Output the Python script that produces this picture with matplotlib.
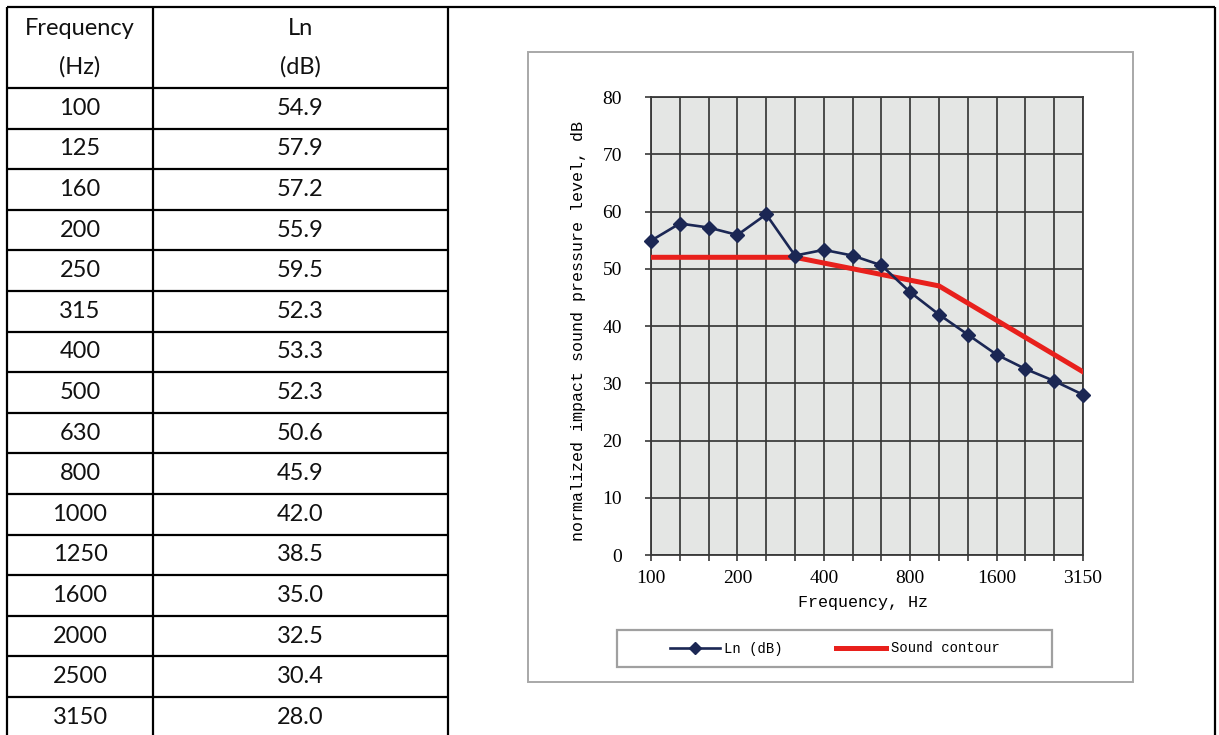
import numpy as np
import matplotlib
matplotlib.use("Agg")
import matplotlib.pyplot as plt
from matplotlib.patches import Rectangle


FREQUENCIES = ["100", "125", "160", "200", "250", "315", "400", "500",
               "630", "800", "1000", "1250", "1600", "2000", "2500", "3150"]
LN_DB = [54.9, 57.9, 57.2, 55.9, 59.5, 52.3, 53.3, 52.3,
         50.6, 45.9, 42.0, 38.5, 35.0, 32.5, 30.4, 28.0]
CONTOUR = [52, 52, 52, 52, 52, 52, 51, 50,
           49, 48, 47, 44, 41, 38, 35, 32]
X_LABELS_SHOWN = ["100", "200", "400", "800", "1600", "3150"]
Y_TICKS = [0, 10, 20, 30, 40, 50, 60, 70, 80]

W, H = 1219, 735
NAVY = "#1b2754"
RED = "#e8201c"
GRID = "#383838"

TABLE_FONT = "Lato"
SERIF = "Liberation Serif"
MONO = "Liberation Mono"


def draw_table(bg):
    line = dict(color="black", lw=1.6, solid_capstyle="butt")
    x_left, x_mid, x_right, x_end = 7, 153, 448, 1215
    y_top, y_head = 7, 88
    row_h = 40.6

    # frame of the whole page
    bg.plot([x_left, x_end], [y_top, y_top], **line)
    for x in (x_left, x_mid, x_right, x_end):
        bg.plot([x, x], [y_top, H], **line)

    bg.plot([x_left, x_right], [y_head, y_head], **line)
    for i in range(1, len(FREQUENCIES) + 1):
        y = y_head + i * row_h
        bg.plot([x_left, x_right], [y, y], **line)

    c1 = (x_left + x_mid) / 2
    c2 = (x_mid + x_right) / 2
    txt = dict(ha="center", va="center", family=TABLE_FONT, fontsize=17,
               color="#111111")
    bg.text(c1, 28, "Frequency", **txt)
    bg.text(c1, 67, "(Hz)", **txt)
    bg.text(c2, 28, "Ln", **txt)
    bg.text(c2, 67, "(dB)", **txt)
    for i, (f, v) in enumerate(zip(FREQUENCIES, LN_DB)):
        y = y_head + (i + 0.5) * row_h
        bg.text(c1, y, f, **txt)
        bg.text(c2, y, f"{v:.1f}", **txt)


def main():
    fig = plt.figure(figsize=(W / 100, H / 100), dpi=100)

    bg = fig.add_axes([0, 0, 1, 1], zorder=0)
    bg.set_xlim(0, W)
    bg.set_ylim(H, 0)
    bg.axis("off")

    draw_table(bg)

    # chart frame and legend box
    bg.add_patch(Rectangle((528, 52), 605, 630, fill=False,
                           edgecolor="#a8a8a8", lw=1.4))
    bg.add_patch(Rectangle((617, 630), 435, 37, fill=False,
                           edgecolor="#a0a0a0", lw=1.6))

    ax = fig.add_axes([651 / W, (H - 555) / H, 432 / W, 458 / H], zorder=1)
    ax.set_facecolor("#e4e6e4")

    x = np.arange(len(FREQUENCIES))
    ax.plot(x, CONTOUR, color=RED, lw=3.6, label="Sound contour", zorder=3)
    ax.plot(x, LN_DB, color=NAVY, lw=1.9, marker="D", markersize=7.5,
            markerfacecolor=NAVY, markeredgecolor=NAVY, label="Ln (dB)",
            zorder=4, clip_on=False)

    ax.set_xlim(0, len(FREQUENCIES) - 1)
    ax.set_ylim(0, 80)
    ax.set_xticks(x)
    ax.set_xticklabels([f if f in X_LABELS_SHOWN else "" for f in FREQUENCIES],
                       family=SERIF, fontsize=14)
    ax.set_yticks(Y_TICKS)
    ax.set_yticklabels([str(t) for t in Y_TICKS], family=SERIF, fontsize=14)
    ax.tick_params(axis="x", length=4, width=1.2, color=GRID, pad=7)
    ax.tick_params(axis="y", length=4, width=1.2, color=GRID, pad=17)

    ax.grid(True, color=GRID, lw=1.25)
    ax.set_axisbelow(True)
    for s in ax.spines.values():
        s.set_color(GRID)
        s.set_linewidth(1.3)

    ax.set_ylabel("normalized impact sound pressure level, dB",
                  family=MONO, fontsize=12)
    ax.yaxis.set_label_coords(-0.15, 0.49)
    ax.set_xlabel("Frequency, Hz", family=MONO, fontsize=12)
    ax.xaxis.set_label_coords(0.49, -0.087)

    handles, labels = ax.get_legend_handles_labels()
    fig.legend(handles[::-1], labels[::-1], loc="center", ncol=2,
               bbox_to_anchor=(834.5 / W, 1 - 648.5 / H),
               frameon=False, prop={"family": MONO, "size": 10},
               handlelength=3.6, handletextpad=0.35, columnspacing=3.8,
               markerscale=0.75)

    fig.savefig("out.png", dpi=100)
    plt.close(fig)


if __name__ == "__main__":
    main()
